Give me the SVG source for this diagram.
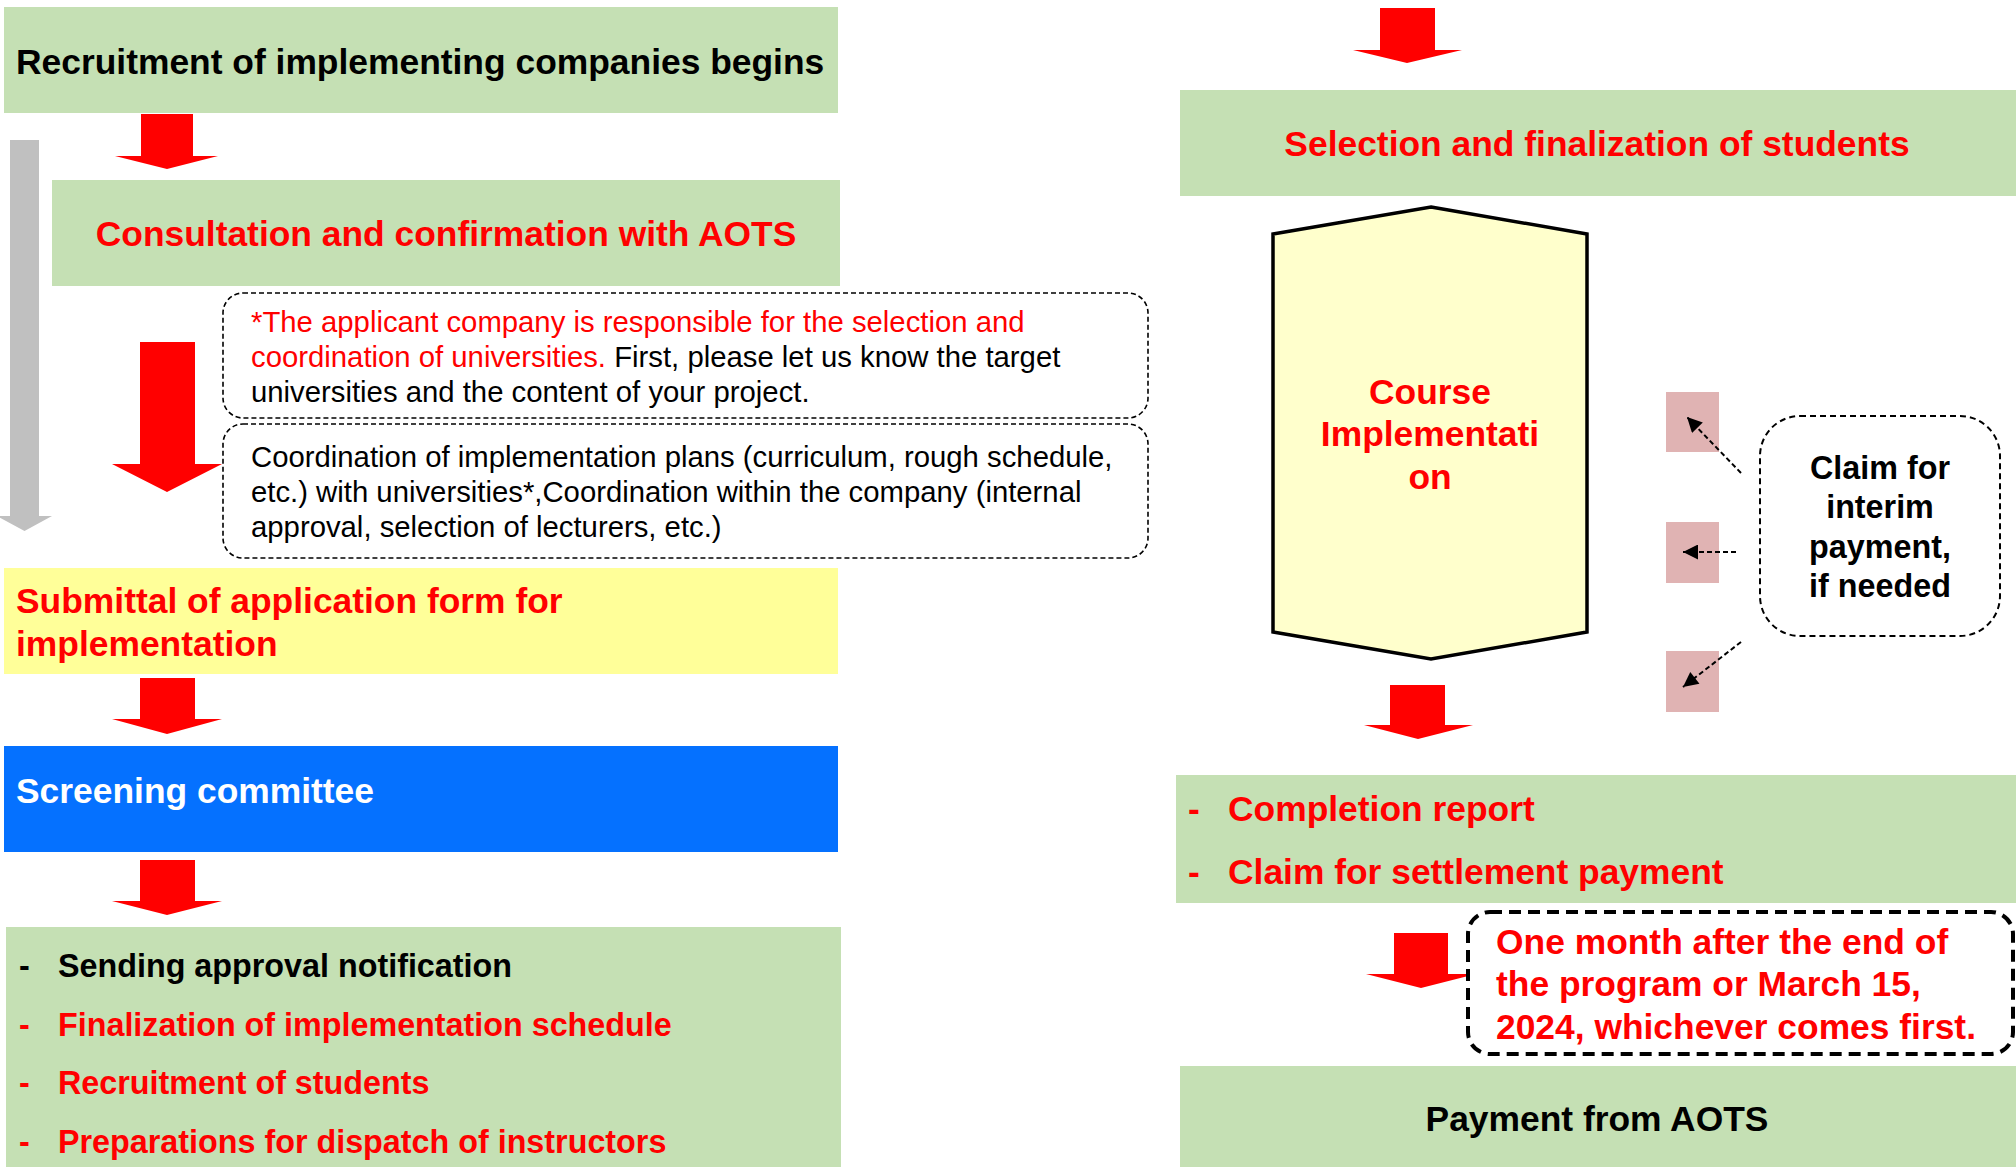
<svg xmlns="http://www.w3.org/2000/svg" width="2016" height="1167" viewBox="0 0 2016 1167">
<defs>
<style>
.g{fill:#c5e0b4}
.b{font-family:"Liberation Sans",Arial,sans-serif;font-weight:bold;font-size:35.4px}
.s{font-size:32.3px}
.r{font-family:"Liberation Sans",Arial,sans-serif;font-size:29.3px}
.red{fill:#ff0000}
.blk{fill:#000000}
.wht{fill:#ffffff}
.arr{fill:#ff0000}
.note{fill:#ffffff;stroke:#000;stroke-width:1.6;stroke-dasharray:5 3}
.dl{stroke:#000;stroke-width:2;stroke-dasharray:5 3;fill:none}
.pink{fill:#e0b3b3}
</style>
<marker id="ah" viewBox="0 0 10 10" refX="10" refY="5" markerWidth="18" markerHeight="15" markerUnits="userSpaceOnUse" orient="auto">
<path d="M0,0 L10,5 L0,10 Z" fill="#000"/>
</marker>
</defs>
<rect width="2016" height="1167" fill="#ffffff"/>

<g id="n-recruitment">
<rect class="g" x="4" y="7" width="834" height="106"/>
<text class="b blk" x="16" y="74">Recruitment of implementing companies begins</text>
</g>

<g id="n-consultation">
<rect class="g" x="52" y="180" width="788" height="106"/>
<text class="b red" x="446" y="246" text-anchor="middle">Consultation and confirmation with AOTS</text>
</g>

<g id="n-note-universities">
<rect class="note" x="223" y="293" width="925" height="125" rx="20"/>
<text class="r red" x="251" y="332">*The applicant company is responsible for the selection and</text>
<text class="r" x="251" y="367"><tspan class="red">coordination of universities.</tspan><tspan class="blk"> First, please let us know the target</tspan></text>
<text class="r blk" x="251" y="402">universities and the content of your project.</text>
</g>

<g id="n-coordination">
<rect class="note" x="223" y="424" width="925" height="134" rx="20"/>
<text class="r blk" x="251" y="467">Coordination of implementation plans (curriculum, rough schedule,</text>
<text class="r blk" x="251" y="502">etc.) with universities*,Coordination within the company (internal</text>
<text class="r blk" x="251" y="537">approval, selection of lecturers, etc.)</text>
</g>

<g id="n-submittal">
<rect x="4" y="568" width="834" height="106" fill="#ffff99"/>
<text class="b red" x="16" y="613">Submittal of application form for</text>
<text class="b red" x="16" y="656">implementation</text>
</g>

<g id="n-screening">
<rect x="4" y="746" width="834" height="106" fill="#0571ff"/>
<text class="b wht" x="16" y="803">Screening committee</text>
</g>

<g id="n-approval">
<rect class="g" x="6" y="927" width="835" height="240"/>
<text class="b s blk" x="19" y="977">-</text>
<text class="b s blk" x="58" y="977">Sending approval notification</text>
<text class="b s red" x="19" y="1036">-</text>
<text class="b s red" x="58" y="1036">Finalization of implementation schedule</text>
<text class="b s red" x="19" y="1094">-</text>
<text class="b s red" x="58" y="1094">Recruitment of students</text>
<text class="b s red" x="19" y="1153">-</text>
<text class="b s red" x="58" y="1153">Preparations for dispatch of instructors</text>
</g>

<g id="n-selection">
<rect class="g" x="1180" y="90" width="836" height="106"/>
<text class="b red" x="1597" y="156" text-anchor="middle">Selection and finalization of students</text>
</g>

<g id="n-course">
<polygon points="1431,207 1587,234 1587,632 1431,659 1273,632 1273,234" fill="#ffffcc" stroke="#000" stroke-width="3.5"/>
<text class="b red" text-anchor="middle" x="1430" y="404">Course</text>
<text class="b red" text-anchor="middle" x="1430" y="446">Implementati</text>
<text class="b red" text-anchor="middle" x="1430" y="489">on</text>
</g>

<g id="n-pink-1"><rect class="pink" x="1666" y="392" width="53" height="60"/></g>
<g id="n-pink-2"><rect class="pink" x="1666" y="522" width="53" height="61"/></g>
<g id="n-pink-3"><rect class="pink" x="1666" y="651" width="53" height="61"/></g>

<g id="n-claim-interim">
<rect x="1760" y="416" width="240" height="220" rx="40" fill="#ffffff" stroke="#000" stroke-width="2" stroke-dasharray="6 4"/>
<text class="b s blk" text-anchor="middle" x="1880" y="479">Claim for</text>
<text class="b s blk" text-anchor="middle" x="1880" y="518">interim</text>
<text class="b s blk" text-anchor="middle" x="1880" y="558">payment,</text>
<text class="b s blk" text-anchor="middle" x="1880" y="597">if needed</text>
</g>

<g id="n-completion">
<rect class="g" x="1176" y="775" width="840" height="128"/>
<text class="b red" x="1188" y="821">-</text>
<text class="b red" x="1228" y="821">Completion report</text>
<text class="b red" x="1188" y="884">-</text>
<text class="b red" x="1228" y="884">Claim for settlement payment</text>
</g>

<g id="connectors">
<polygon class="arr" points="141,114 193,114 193,156 218,156 167,169 115,156 141,156"/>
<polygon fill="#c0c0c0" points="10,140 39,140 39,516 52,516 24.5,531 -3,516 10,516"/>
<polygon class="arr" points="140,342 195,342 195,464 222,464 167,492 112,464 140,464"/>
<polygon class="arr" points="140,678 195,678 195,719 222,719 167,734 112,719 140,719"/>
<polygon class="arr" points="140,860 195,860 195,901 222,901 167,915 112,901 140,901"/>
<polygon class="arr" points="1380,8 1435,8 1435,50 1462,50 1407,63 1353,50 1380,50"/>
<polygon class="arr" points="1390,685 1445,685 1445,725 1473,725 1418,739 1364,725 1390,725"/>
<polygon class="arr" points="1394,933 1448,933 1448,974 1476,974 1421,988 1366,974 1394,974"/>
<line class="dl" x1="1741" y1="473" x2="1687" y2="417" marker-end="url(#ah)"/>
<line class="dl" x1="1736" y1="552" x2="1683" y2="552" marker-end="url(#ah)"/>
<line class="dl" x1="1741" y1="642" x2="1683" y2="687" marker-end="url(#ah)"/>
</g>

<g id="n-deadline">
<rect x="1468" y="912" width="545" height="142" rx="22" fill="#ffffff" stroke="#000" stroke-width="4" stroke-dasharray="12 7"/>
<text class="b red" x="1496" y="954">One month after the end of</text>
<text class="b red" x="1496" y="996">the program or March 15,</text>
<text class="b red" x="1496" y="1039">2024, whichever comes first.</text>
</g>

<g id="n-payment">
<rect class="g" x="1180" y="1066" width="836" height="101"/>
<text class="b blk" x="1597" y="1131" text-anchor="middle">Payment from AOTS</text>
</g>
</svg>
